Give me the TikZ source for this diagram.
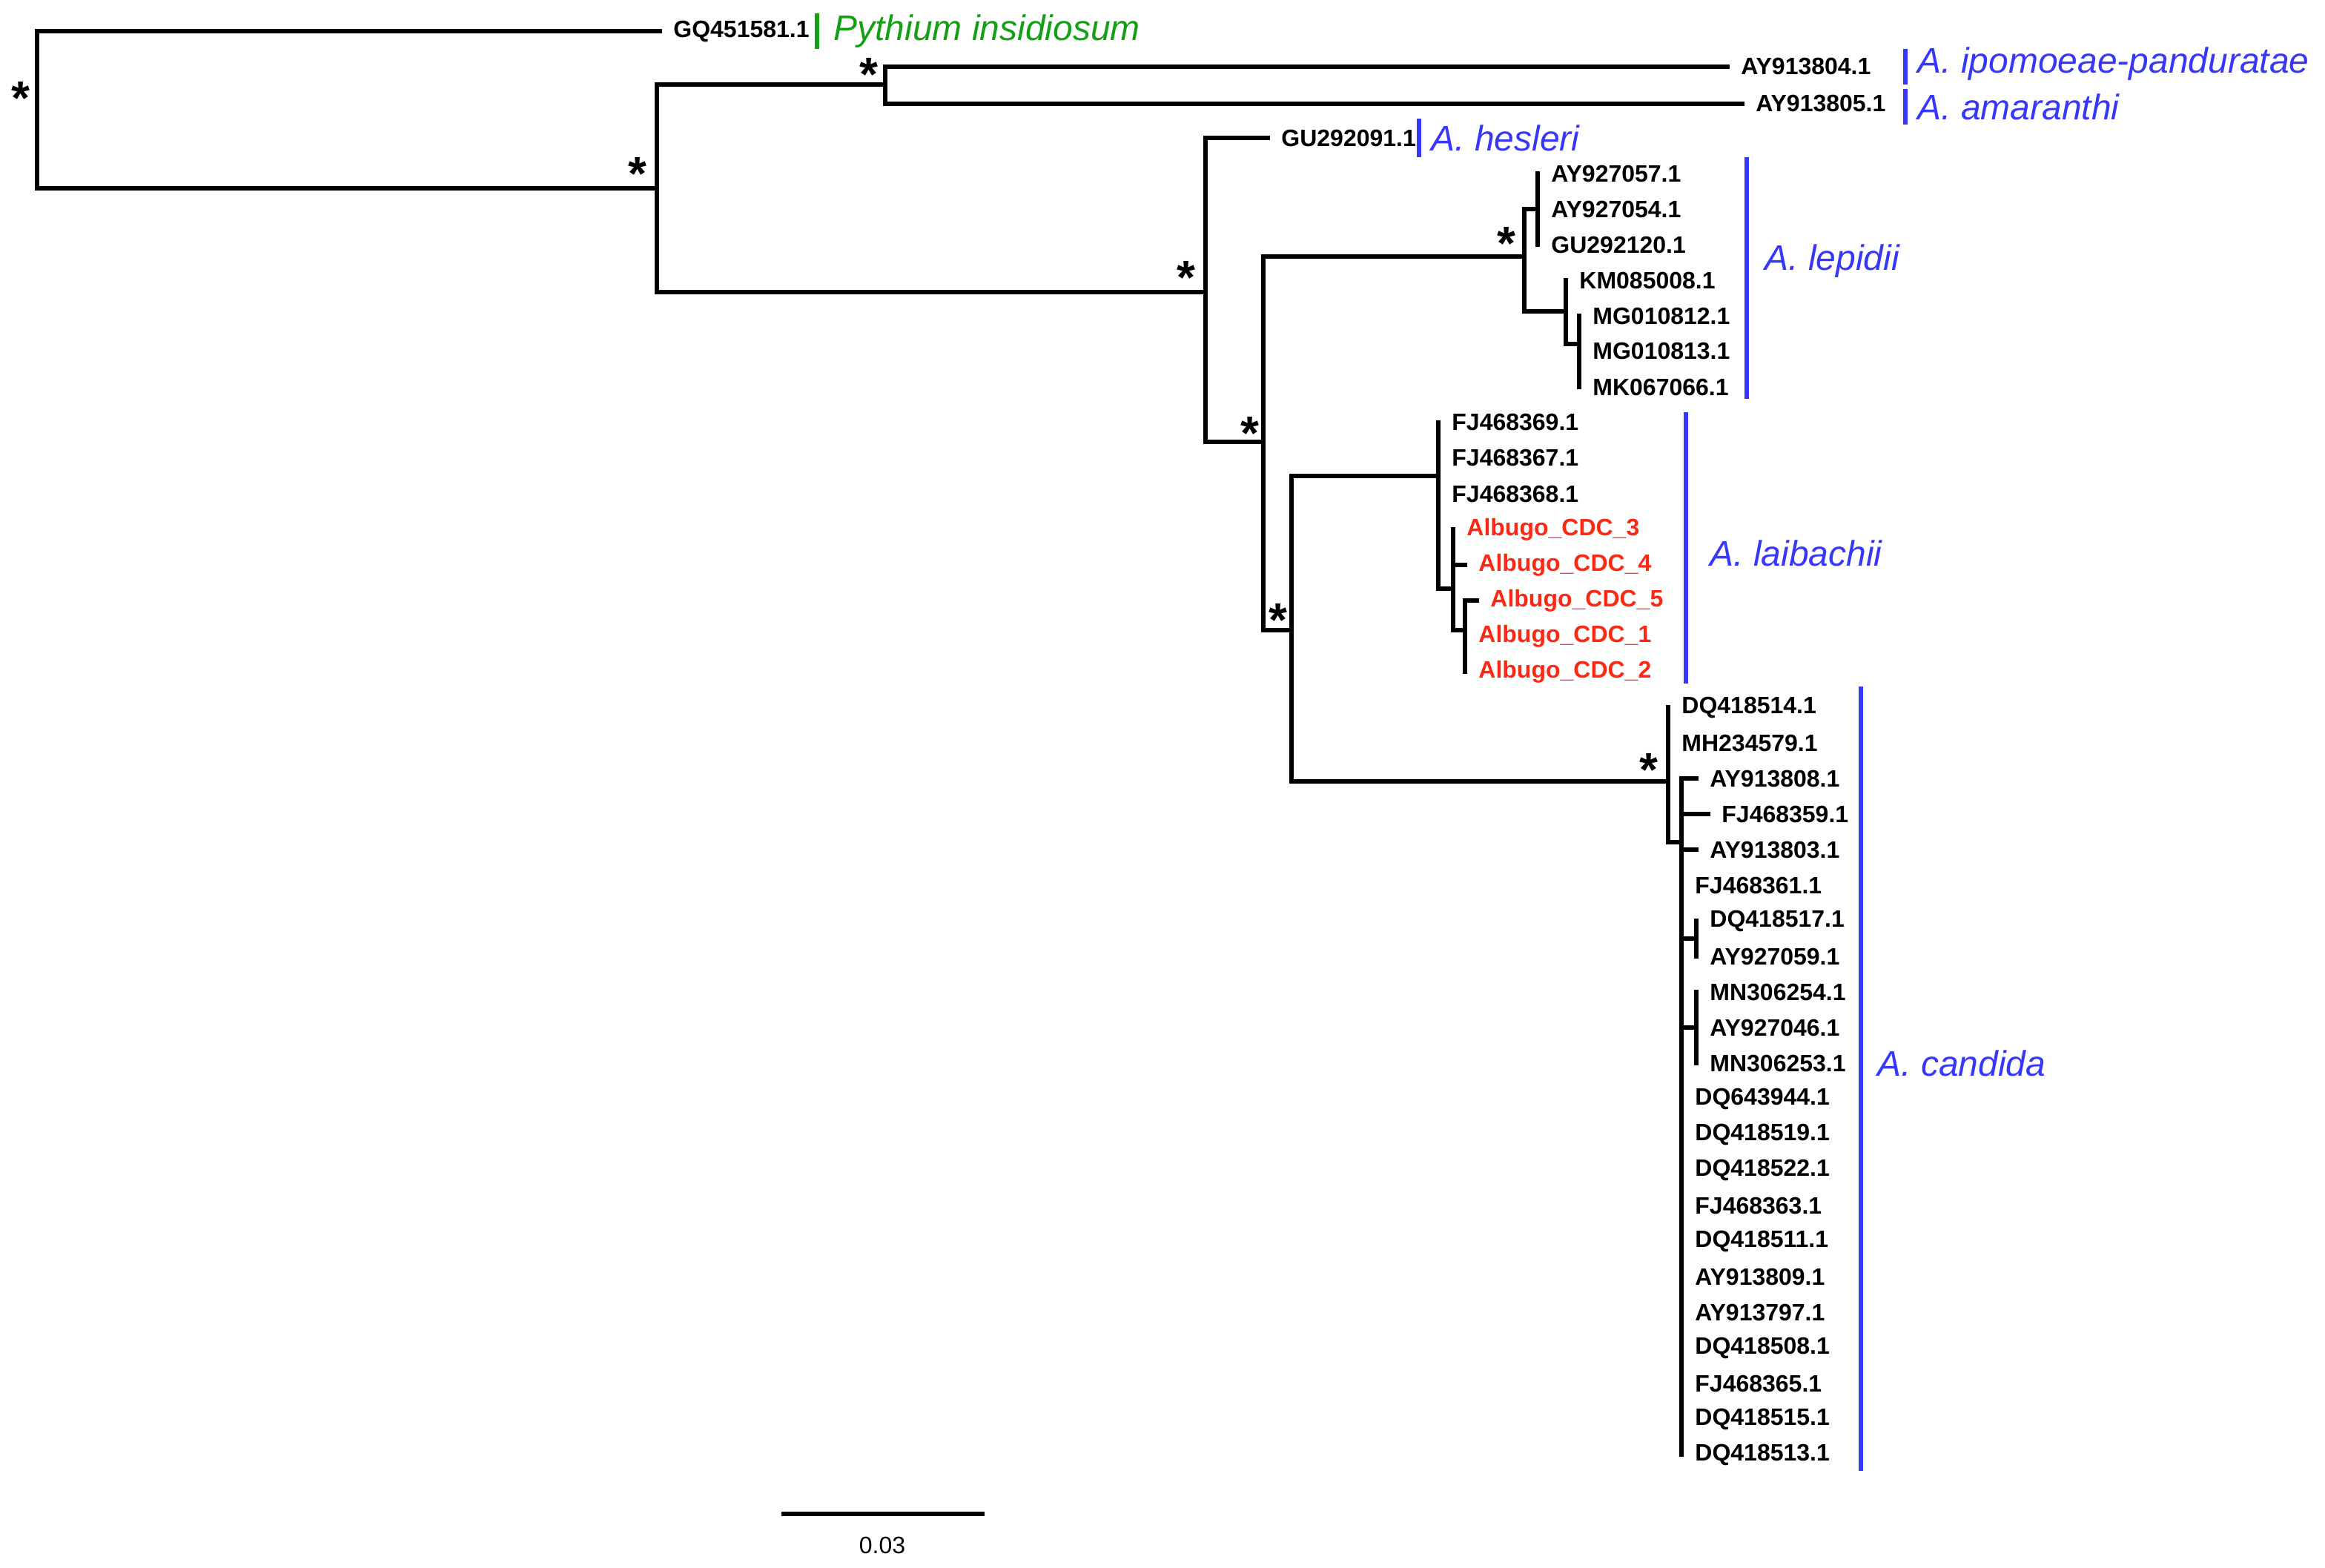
\documentclass[tikz,border=0pt]{standalone}
\usepackage{fontspec}
\setmainfont{Liberation Sans}
\begin{document}
\begin{tikzpicture}[x=1pt, y=-1pt,
    branch/.style={draw, line width=2.8pt, line cap=rect},
    acc/.style={anchor=west, inner sep=0pt, font=\fontsize{16}{16}\selectfont\bfseries},
    own/.style={acc, text={rgb,255:red,250;green,40;blue,20}},
    clade/.style={anchor=west, inner sep=0pt, font=\fontsize{24}{24}\selectfont\itshape, text=cladeblue},
    bar/.style={draw=cladeblue, line width=2.8pt},
    star/.style={inner sep=0pt, font=\fontsize{32}{32}\selectfont\bfseries}
]
    \definecolor{cladeblue}{RGB}{55,55,250}
    \definecolor{outgreen}{RGB}{20,160,20}
    \useasboundingbox (0,0) rectangle (1568,1057);

    % Inner nodes (x, y of the branch that enters them)
    \coordinate (root) at (25,21);
    \coordinate (nA) at (443,127);
    \coordinate (nB) at (597,57);
    \coordinate (nC) at (813,197);
    \coordinate (nD) at (852,298);
    \coordinate (nE) at (1028,173);
    \coordinate (nE1) at (1037,141);
    \coordinate (nE2) at (1056,210);
    \coordinate (nE3) at (1065,232);
    \coordinate (nI) at (871,425);
    \coordinate (nF) at (970,321);
    \coordinate (nG) at (980,397);
    \coordinate (nH) at (988,425);
    \coordinate (nJ) at (1125,527);
    \coordinate (nK) at (1134,568);
    \coordinate (nL) at (1144,633);
    \coordinate (nM) at (1144,693);

    % Tips: name, end x, row y, label, style
    \foreach \n/\x/\y/\t/\s in {
        pyt/445/21/GQ451581.1/acc,
        ipo/1165/45/AY913804.1/acc,
        ama/1175/70/AY913805.1/acc,
        hes/855/93/GU292091.1/acc,
        l1/1037/117/AY927057.1/acc, l2/1037/141/AY927054.1/acc, l3/1037/165/GU292120.1/acc,
        l4/1056/189/KM085008.1/acc,
        l5/1065/213/MG010812.1/acc, l6/1065/237/MG010813.1/acc, l7/1065/261/MK067066.1/acc,
        b1/970/285/FJ468369.1/acc, b2/970/309/FJ468367.1/acc, b3/970/333/FJ468368.1/acc,
        b4/980/357/Albugo\_CDC\_3/own, b5/988/381/Albugo\_CDC\_4/own,
        b6/996/405/Albugo\_CDC\_5/own, b7/988/429/Albugo\_CDC\_1/own, b8/988/453/Albugo\_CDC\_2/own,
        c1/1125/477/DQ418514.1/acc, c2/1125/501/MH234579.1/acc,
        c3/1144/525/AY913808.1/acc, c4/1152/549/FJ468359.1/acc, c5/1144/573/AY913803.1/acc,
        c6/1134/597/FJ468361.1/acc,
        c7/1144/621/DQ418517.1/acc, c8/1144/645/AY927059.1/acc,
        c9/1144/669/MN306254.1/acc, c10/1144/693/AY927046.1/acc, c11/1144/717/MN306253.1/acc,
        c12/1134/741/DQ643944.1/acc, c13/1134/765/DQ418519.1/acc, c14/1134/789/DQ418522.1/acc,
        c15/1134/813/FJ468363.1/acc, c16/1134/837/DQ418511.1/acc, c17/1134/861/AY913809.1/acc,
        c18/1134/885/AY913797.1/acc, c19/1134/909/DQ418508.1/acc, c20/1134/933/FJ468365.1/acc,
        c21/1134/957/DQ418515.1/acc, c22/1134/981/DQ418513.1/acc} {
        \coordinate (\n) at (\x,\y);
        \node[\s] (\n-lab) at (\x+9,\y) {\t};
    }

    % Branches
    \path[branch] (root) -- (pyt) (root) |- (nA);
    \path[branch] (nA) |- (nB) (nA) |- (nC);
    \path[branch] (nB) |- (ipo) (nB) |- (ama);
    \path[branch] (nC) |- (hes) (nC) |- (nD);
    \path[branch] (nD) |- (nE) (nD) |- (nI);
    \path[branch] (nE) |- (nE1) (nE) |- (nE2);
    \path[branch] (l1) -- (l3);
    \path[branch] (nE2) |- (l4) (nE2) |- (nE3);
    \path[branch] (l5) -- (l7);
    \path[branch] (nI) |- (nF) (nI) |- (nJ);
    \path[branch] (nF) |- (b1) (nF) |- (nG);
    \path[branch] (nG) |- (b4) (nG) |- (b5) (nG) |- (nH);
    \path[branch] (nH) |- (b6) (nH) |- (b8);
    \path[branch] (nJ) |- (c1) (nJ) |- (nK);
    \path[branch] (nK) |- (c3) (nK) |- (c4) (nK) |- (c5) (nK) |- (c22);
    \path[branch] (nK) |- (nL) (nK) |- (nM);
    \path[branch] (c7) -- (c8) (c9) -- (c11);

    % Support values
    \node[star] (s0) at (14,66) {*};
    \node[star] (s1) at (430,117) {*};
    \node[star] (s2) at (586,50) {*};
    \node[star] (s3) at (800,187) {*};
    \node[star] (s4) at (843,292) {*};
    \node[star] (s5) at (1016,164) {*};
    \node[star] (s6) at (862,418) {*};
    \node[star] (s7) at (1112,519) {*};

    % Clades
    \draw[draw=outgreen, line width=2.8pt] (551,9) -- (551,33);
    \node[clade, text=outgreen] (pythium) at (562,21) {Pythium insidiosum};
    \draw[bar] (1285,33) -- (1285,57);
    \node[clade] (ipomoeae) at (1293,43) {A. ipomoeae-panduratae};
    \draw[bar] (1285,60) -- (1285,84);
    \node[clade] (amaranthi) at (1293,72) {A. amaranthi};
    \draw[bar] (957,80) -- (957,106);
    \node[clade] (hesleri) at (965,93) {A. hesleri};
    \draw[bar] (1178,106) -- (1178,269);
    \node[clade] (lepidii) at (1190,176) {A. lepidii};
    \draw[bar] (1137,278) -- (1137,461);
    \node[clade] (laibachii) at (1153,373) {A. laibachii};
    \draw[bar] (1255,463) -- (1255,992);
    \node[clade] (candida) at (1266,717) {A. candida};

    % Scale bar
    \coordinate (sb1) at (527,1021);
    \coordinate (sb2) at (664,1021);
    \draw[line width=2.8pt] (sb1) -- (sb2);
    \node[font=\fontsize{16}{16}\selectfont] (sblab) at (595,1042) {0.03};
\end{tikzpicture}
\end{document}
